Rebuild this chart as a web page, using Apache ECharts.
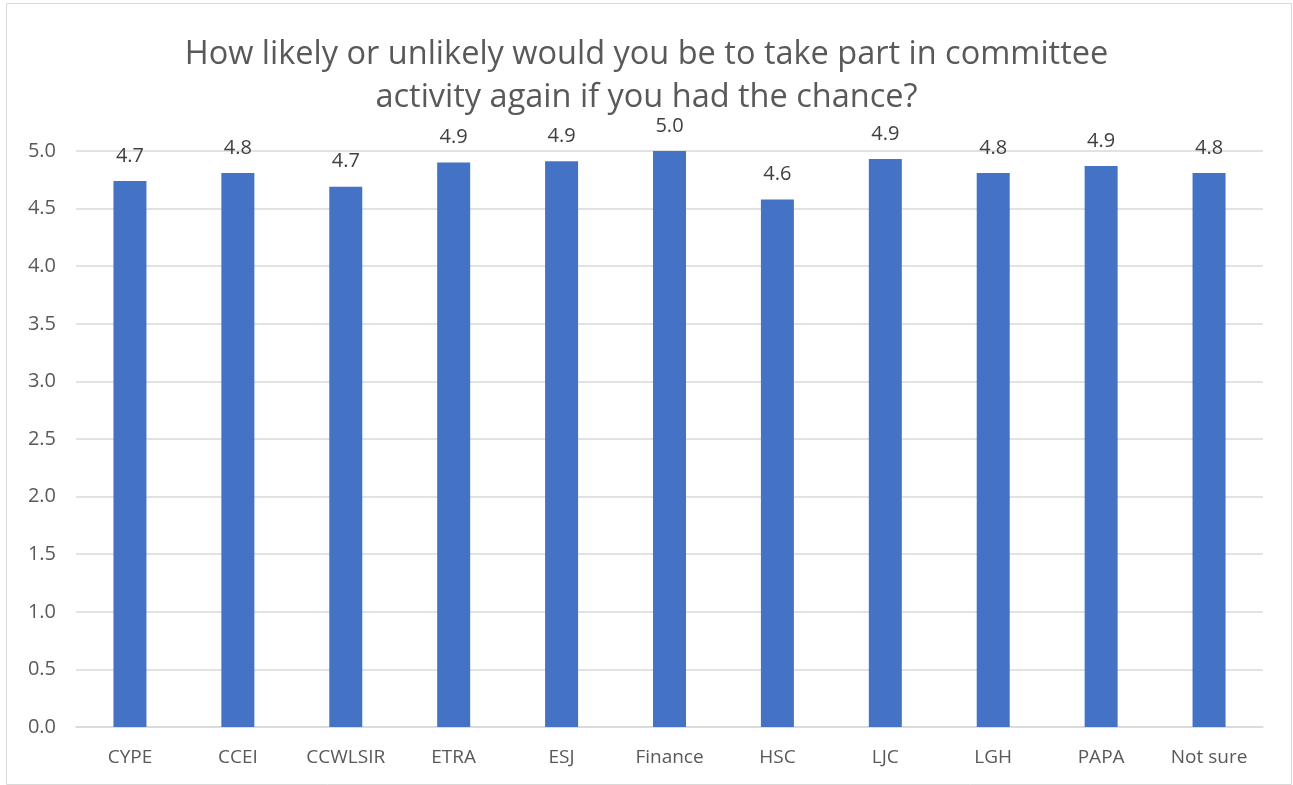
<!DOCTYPE html>
<html>
<head>
<meta charset="utf-8">
<script src="https://cdn.jsdelivr.net/npm/echarts@6/dist/echarts.min.js"></script>
<style>
html,body{margin:0;padding:0;background:#fff;}
#chart{width:1293px;height:785px;}
</style>
</head>
<body>
<div id="chart"></div>
<script>
var titleText = "How likely or unlikely would you be to take part in committee\nactivity again if you had the chance?";
var categories = ["CYPE","CCEI","CCWLSIR","ETRA","ESJ","Finance","HSC","LJC","LGH","PAPA","Not sure"];
var values = [4.74, 4.81, 4.69, 4.90, 4.91, 5.00, 4.58, 4.93, 4.81, 4.87, 4.81];
var yMin = 0, yMax = 5, yStep = 0.5;

var chart = echarts.init(document.getElementById('chart'));
var font = "Open Sans";
chart.setOption({
  backgroundColor: '#ffffff',
  animation: false,
  graphic: [{
    type: 'rect', left: 4, top: 1,
    shape: { width: 1285, height: 781 },
    style: { fill: 'none', stroke: '#d9d9d9', lineWidth: 1 }, silent: true
  }],
  title: {
    text: titleText,
    left: 'center', top: 28,
    textStyle: { fontFamily: font, fontSize: 32.5, fontWeight: 'normal', color: '#595959', lineHeight: 43 }
  },
  grid: { left: 76, right: 30, top: 151, bottom: 58, containLabel: false },
  xAxis: {
    type: 'category', data: categories,
    axisLine: { show: true, lineStyle: { color: '#d9d9d9', width: 1.5 } },
    axisTick: { show: false },
    axisLabel: { fontFamily: font, fontSize: 19, color: '#595959', margin: 21 }
  },
  yAxis: {
    type: 'value', min: yMin, max: yMax, interval: yStep,
    axisLine: { show: false }, axisTick: { show: false },
    splitLine: { lineStyle: { color: '#d9d9d9', width: 1.5 } },
    axisLabel: { fontFamily: font, fontSize: 20, color: '#595959', margin: 20,
      formatter: function (v) { return v.toFixed(1); } }
  },
  series: [{
    type: 'bar', data: values, barWidth: 33,
    itemStyle: { color: '#4472c4' },
    label: { show: true, position: 'top', distance: 15, fontFamily: font, fontSize: 20, color: '#404040',
      formatter: function (p) { return p.value.toFixed(1); } }
  }]
});
</script>
</body>
</html>
